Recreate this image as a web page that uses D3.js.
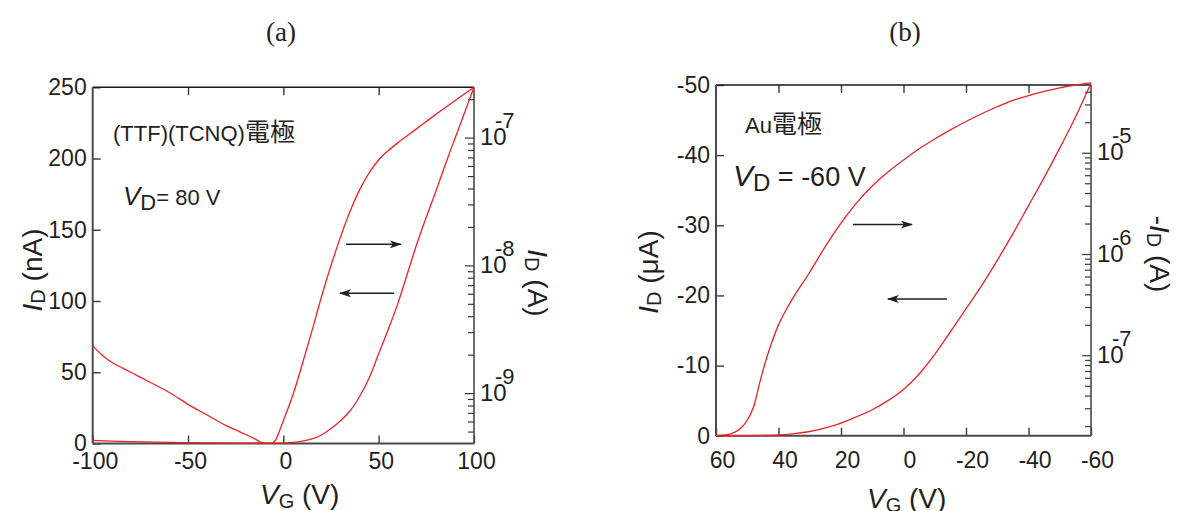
<!DOCTYPE html>
<html>
<head>
<meta charset="utf-8">
<script src="https://cdn.jsdelivr.net/npm/d3@7"></script>
<style>
  body { margin: 0; background: #fff; }
  text { font-family: "Liberation Sans", Arial, Helvetica, sans-serif; fill: #231f20; }
  .serif { font-family: "Liberation Serif", "Times New Roman", serif; }
  .cjk { font-family: "Noto Sans CJK JP", "Noto Sans CJK SC", sans-serif; }
</style>
</head>
<body>
<svg id="chart" width="1177" height="511"></svg>
<script>
// ---- panel (a): (TTF)(TCNQ) electrode, VD = 80 V, ID in nA ----
const aXTicks = [-100, -50, 0, 50, 100];
const aYTicks = [0, 50, 100, 150, 200, 250];
const aLogDomain = [4.07e-10, 2.5e-7];   // right axis, ID (A)

// sweep that comes back through the low-VG branch
const aCurve1V = [-100, -95, -90, -80, -70, -60, -50, -40, -30, -25, -20, -15, -12, -10, -6, -4, -2, 0, 5, 10, 15, 20, 25, 30, 35, 40, 45, 50, 55, 60, 70, 80, 90, 100];
const aCurve1I = [68.5, 62, 57, 50, 43, 36, 27.5, 20, 12.5, 9.5, 6.5, 3.2, 1, 0.2, 0.2, 2.5, 9, 16, 34, 56, 79, 103, 125, 145, 163, 178, 190, 199, 205.5, 211, 221, 231, 240.5, 250];
// sweep that stays off until high VG
const aCurve2V = [-100, -90, -80, -60, -40, -20, 0, 5, 10, 15, 20, 25, 30, 35, 40, 45, 50, 55, 60, 65, 70, 75, 80, 85, 90, 95, 100];
const aCurve2I = [2.2, 1.7, 1.3, 0.8, 0.5, 0.3, 0.3, 0.8, 1.7, 3.2, 6, 10.5, 16, 23, 33, 46, 63, 80, 98, 119, 140, 159, 177, 196, 214, 232, 250];

// arrows: [fromV, toV, I]
const aArrows = [[32.9, 61.6, 139.8], [58.1, 29.7, 105.4]];

// ---- panel (b): Au electrode, VD = -60 V, ID in uA ----
const bXTicks = [60, 40, 20, 0, -20, -40, -60];
const bYTicks = [0, -10, -20, -30, -40, -50];
const bLogDomain = [1.625e-8, 4.72e-5];  // right axis, -ID (A)

const bCurve1V = [60, 56, 54, 52, 50, 48, 46, 44, 42, 40, 38, 35, 30, 25, 20, 15, 10, 5, 0, -5, -10, -15, -20, -25, -30, -35, -40, -45, -50, -55, -60];
const bCurve1I = [0, -0.2, -0.5, -1.1, -2.2, -4.1, -7.6, -10.8, -13.5, -15.8, -17.6, -19.9, -23.3, -27.0, -30.3, -33.2, -35.6, -37.6, -39.3, -40.9, -42.3, -43.6, -44.8, -45.9, -46.9, -47.8, -48.5, -49.1, -49.6, -50.0, -50.3];
const bCurve2V = [60, 50, 40, 35, 30, 25, 20, 15, 10, 5, 0, -5, -10, -15, -20, -25, -30, -35, -40, -45, -50, -55, -60];
const bCurve2I = [0, 0, -0.1, -0.3, -0.6, -1.1, -1.8, -2.7, -3.7, -5.0, -6.6, -8.8, -11.6, -14.8, -18.1, -21.4, -25.0, -28.8, -32.8, -36.8, -41.0, -45.4, -50.3];

const bArrows = [[16.2, -2.7, -30.1], [-13.9, 5.0, -19.5]];

const svg = d3.select('#chart');
const red = '#ec2227';

// arrowhead
svg.append('defs').append('marker')
    .attr('id', 'head')
    .attr('viewBox', '0 0 12 8')
    .attr('refX', 11).attr('refY', 4)
    .attr('markerWidth', 12).attr('markerHeight', 8)
    .attr('markerUnits', 'userSpaceOnUse')
    .attr('orient', 'auto')
    .append('path')
    .attr('d', 'M0,0 L12,4 L0,8 L3,4 Z')
    .attr('fill', '#231f20');

function drawPanel(p) {
    const g = svg.append('g');
    const x = d3.scaleLinear().domain(p.xDomain).range([p.left, p.right]);
    const y = d3.scaleLinear().domain(p.yDomain).range([p.bottom, p.top]);
    const yLog = d3.scaleLog().domain(p.logDomain).range([p.bottom, p.top]);
    const fmt = d => String(d);

    // left axis
    const la = g.append('g').attr('transform', `translate(${p.left},0)`)
        .call(d3.axisLeft(y).tickValues(p.yTicks).tickSizeInner(-8).tickSizeOuter(0).tickPadding(6).tickFormat(fmt));
    // bottom axis
    const ba = g.append('g').attr('transform', `translate(0,${p.bottom})`)
        .call(d3.axisBottom(x).tickValues(p.xTicks).tickSizeInner(-8).tickSizeOuter(0).tickPadding(p.xPad).tickFormat(fmt));
    ba.selectAll('.tick text').attr('dx', p.xLabelDx);
    // top axis, ticks only
    const ta = g.append('g').attr('transform', `translate(0,${p.top})`)
        .call(d3.axisTop(x).tickValues(p.xTicks.slice(1, -1)).tickSizeInner(-8).tickSizeOuter(0).tickFormat(''));

    [la, ba, ta].forEach(a => {
        a.select('.domain').remove();
        a.selectAll('.tick line').attr('stroke', '#3a3a3a').attr('stroke-width', 1.4);
        a.selectAll('.tick text').attr('fill', '#231f20').style('font-size', '23px')
            .style('font-family', '"Liberation Sans", Arial, sans-serif');
    });

    // frame
    g.append('line').attr('x1', p.left).attr('x2', p.right).attr('y1', p.top).attr('y2', p.top)
        .attr('stroke', '#1a1a1a').attr('stroke-width', 1.4);
    g.append('line').attr('x1', p.left).attr('x2', p.right).attr('y1', p.bottom).attr('y2', p.bottom)
        .attr('stroke', '#4a4a4a').attr('stroke-width', 2);
    g.append('line').attr('x1', p.left).attr('x2', p.left).attr('y1', p.top).attr('y2', p.bottom)
        .attr('stroke', '#4a4a4a').attr('stroke-width', 2);
    g.append('line').attr('x1', p.right).attr('x2', p.right).attr('y1', p.top).attr('y2', p.bottom)
        .attr('stroke', '#4a4a4a').attr('stroke-width', 1.6);

    // right log axis, ticks inward
    const [lo, hi] = p.logDomain;
    const rg = g.append('g');
    for (let n = Math.floor(Math.log10(lo)); n <= Math.ceil(Math.log10(hi)); n++) {
        for (let k = 1; k <= 9; k++) {
            const v = k * Math.pow(10, n);
            if (v < lo || v > hi) continue;
            const yy = yLog(v);
            rg.append('line').attr('x1', p.right).attr('x2', p.right - (k === 1 ? 9 : 6))
                .attr('y1', yy).attr('y2', yy).attr('stroke', '#3a3a3a').attr('stroke-width', 1.2);
            if (k === 1) {
                rg.append('text').attr('x', p.right + 6).attr('y', yy + 7)
                    .style('font-size', '24px').text('10');
                rg.append('text').attr('x', p.right + 21).attr('y', yy - 10)
                    .style('font-size', '22px').text(String(n));
            }
        }
    }

    // curves
    const line = d3.line().x(d => x(d[0])).y(d => y(d[1])).curve(d3.curveCatmullRom.alpha(0.5));
    p.curves.forEach(([vs, is]) => {
        const pts = vs.map((v, i) => [v, is[i]]);
        g.append('path').attr('d', line(pts)).attr('fill', 'none')
            .attr('stroke', red).attr('stroke-width', 1.3);
    });

    // sweep direction arrows
    p.arrows.forEach(([v0, v1, i]) => {
        g.append('line').attr('x1', x(v0)).attr('x2', x(v1)).attr('y1', y(i)).attr('y2', y(i))
            .attr('stroke', '#231f20').attr('stroke-width', 1.5).attr('marker-end', 'url(#head)');
    });

    // panel label
    g.append('text').attr('class', 'serif').attr('x', p.labelX).attr('y', 41)
        .attr('text-anchor', 'middle').style('font-size', '27px').text(p.label);

    // x title
    const xt = g.append('text').attr('x', p.xTitleX).attr('y', p.xTitleY).style('font-size', '28px');
    xt.append('tspan').style('font-style', 'italic').text('V');
    xt.append('tspan').style('font-size', '20px').attr('dy', 4).text('G');
    xt.append('tspan').attr('dy', -4).text(' (V)');

    // left title
    const lt = g.append('text').attr('transform', `translate(${p.lTitleX},${p.lTitleY}) rotate(-90)`)
        .attr('text-anchor', 'middle').style('font-size', '28px');
    lt.append('tspan').style('font-style', 'italic').text('I');
    lt.append('tspan').style('font-size', '20px').attr('dy', 3).text('D');
    lt.append('tspan').attr('dy', -3).text(' (' + p.unit + ')');

    // right title
    const rt = g.append('text').attr('transform', `translate(${p.rTitleX},${p.rTitleY}) rotate(90)`)
        .attr('text-anchor', 'middle').style('font-size', '28px');
    if (p.rMinus) rt.append('tspan').text('-');
    rt.append('tspan').style('font-style', 'italic').text('I');
    rt.append('tspan').style('font-size', '20px').attr('dy', 3).text('D');
    rt.append('tspan').attr('dy', -3).text(' (A)');

    return {x, y, g};
}

const pa = drawPanel({
    left: 92.7, right: 474, top: 87.3, bottom: 443.5,
    xDomain: [-100, 100], yDomain: [0, 250], logDomain: aLogDomain,
    xTicks: aXTicks, yTicks: aYTicks, xPad: 9, xLabelDx: 2,
    curves: [[aCurve1V, aCurve1I], [aCurve2V, aCurve2I]],
    arrows: aArrows,
    label: '(a)', labelX: 281,
    xTitleX: 260, xTitleY: 504,
    lTitleX: 42, lTitleY: 270, unit: 'nA',
    rTitleX: 528, rTitleY: 283, rMinus: false
});

const pb = drawPanel({
    left: 716, right: 1091, top: 85, bottom: 435.7,
    xDomain: [60, -60], yDomain: [0, -50], logDomain: bLogDomain,
    xTicks: bXTicks, yTicks: bYTicks, xPad: 16, xLabelDx: 6,
    curves: [[bCurve1V, bCurve1I], [bCurve2V, bCurve2I]],
    arrows: bArrows,
    label: '(b)', labelX: 905,
    xTitleX: 867, xTitleY: 508,
    lTitleX: 658, lTitleY: 272, unit: 'μA',
    rTitleX: 1150, rTitleY: 254, rMinus: true
});

// in-plot notes, panel (a)
const na = pa.g.append('text').attr('x', 113).attr('y', 141).style('font-size', '22px');
na.append('tspan').text('(TTF)(TCNQ)');
na.append('tspan').attr('class', 'cjk').style('font-size', '25px').text('電極');

const vda = pa.g.append('text').attr('x', 123).attr('y', 205).style('font-size', '22px');
vda.append('tspan').style('font-style', 'italic').style('font-size', '26px').text('V');
vda.append('tspan').attr('dy', 5).text('D');
vda.append('tspan').attr('dy', -5).text('= 80 V');

// in-plot notes, panel (b)
const nb = pb.g.append('text').attr('x', 745).attr('y', 133).style('font-size', '22px');
nb.append('tspan').text('Au');
nb.append('tspan').attr('class', 'cjk').style('font-size', '25px').text('電極');

const vdb = pb.g.append('text').attr('x', 733).attr('y', 186).style('font-size', '27px');
vdb.append('tspan').style('font-style', 'italic').style('font-size', '30px').text('V');
vdb.append('tspan').style('font-size', '24px').attr('dy', 5).text('D');
vdb.append('tspan').attr('dy', -5).text(' = -60 V');
</script>
</body>
</html>
